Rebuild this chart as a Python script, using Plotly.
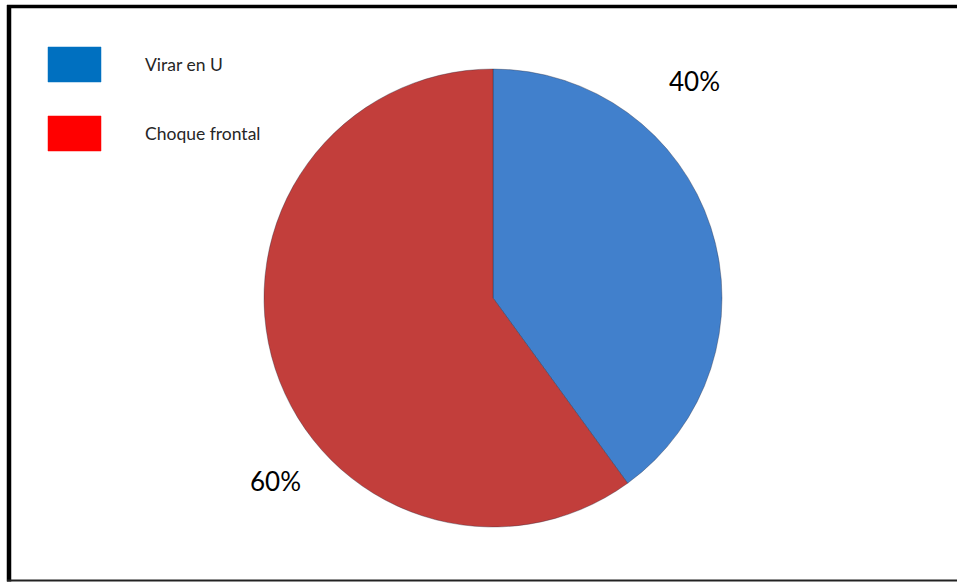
import plotly.graph_objects as go

# Data
categories = ["Virar en U", "Choque frontal"]
values = [40, 60]
slice_colors = ["#4180CC", "#C23E3B"]
legend_colors = ["#0070C0", "#FF0000"]

W, H = 957, 582

def px(x):
    return x / W

def py(y):
    return 1 - y / H

fig = go.Figure()

fig.add_trace(go.Pie(
    labels=categories,
    values=values,
    sort=False,
    direction="clockwise",
    rotation=0,
    marker=dict(colors=slice_colors, line=dict(color="rgba(40,40,60,0.45)", width=0.8)),
    textinfo="none",
    hoverinfo="label+percent",
    showlegend=False,
    domain=dict(x=[px(264), px(722)], y=[py(527), py(69)]),
))

total = sum(values)
label_pos = [(694, 81), (275, 481)]
for v, (lx, ly) in zip(values, label_pos):
    fig.add_annotation(
        x=px(lx), y=py(ly), xref="paper", yref="paper",
        text=f"{round(100 * v / total)}%", showarrow=False,
        font=dict(family="Lato, Open Sans, sans-serif", size=26, color="#000000"),
        xanchor="center", yanchor="middle",
    )

# Legend: coloured squares with their labels
legend_rows = [64.5, 133.5]
for name, col, cy in zip(categories, legend_colors, legend_rows):
    fig.add_shape(type="rect", xref="paper", yref="paper",
                  x0=px(48), x1=px(101), y0=py(cy - 17.5), y1=py(cy + 17.5),
                  fillcolor=col, line=dict(color=col, width=0.5), layer="above")
    fig.add_annotation(
        x=px(143), y=py(cy), xref="paper", yref="paper",
        text=name, showarrow=False, xanchor="left", yanchor="middle",
        font=dict(family="Lato, Open Sans, sans-serif", size=17.5, color="#262626"),
    )

# Frame around the chart area
fig.add_shape(type="line", xref="paper", yref="paper",
              x0=px(7), x1=1.0, y0=py(6.5), y1=py(6.5),
              line=dict(color="#000000", width=3.5))
fig.add_shape(type="line", xref="paper", yref="paper",
              x0=px(9), x1=px(9), y0=py(5), y1=py(581.5),
              line=dict(color="#000000", width=4.5))
fig.add_shape(type="line", xref="paper", yref="paper",
              x0=px(7), x1=1.0, y0=py(580.5), y1=py(580.5),
              line=dict(color="#222222", width=2))

fig.update_layout(
    width=W, height=H,
    margin=dict(l=0, r=0, t=0, b=0),
    paper_bgcolor="#FFFFFF",
    plot_bgcolor="#FFFFFF",
    showlegend=False,
)

fig.write_html("out.html")
